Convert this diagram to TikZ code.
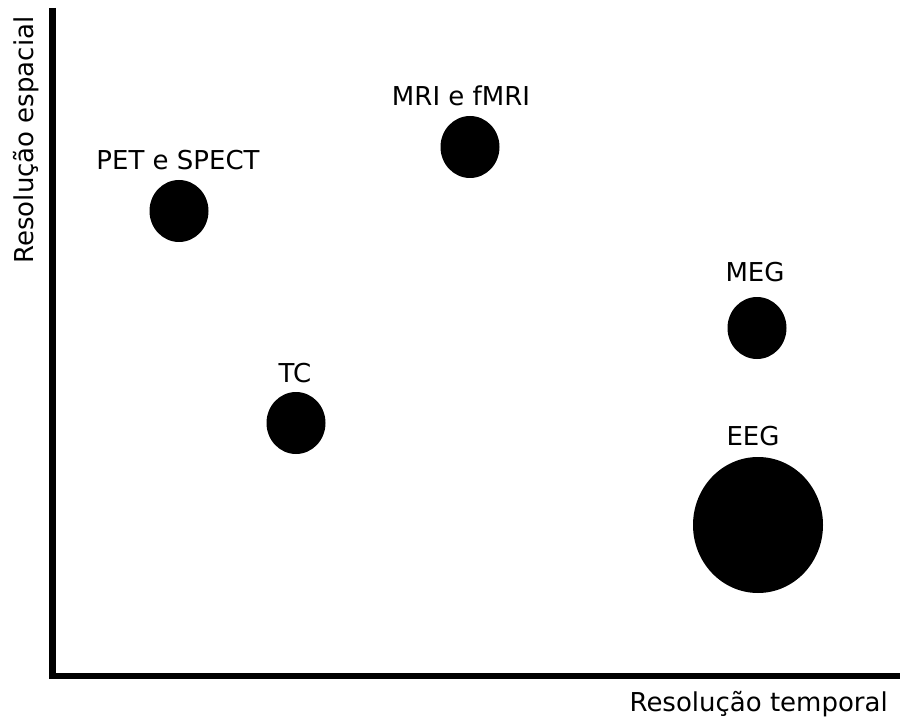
\documentclass[tikz,border=0pt]{standalone}
\usepackage{fontspec}
\setmainfont{DejaVu Sans}
\usetikzlibrary{shapes.geometric}
\tikzset{
  blob/.style={ellipse, fill=black, draw=none, inner sep=0pt, minimum width=59pt, minimum height=62pt},
  bigblob/.style={blob, minimum width=130pt, minimum height=136pt},
  lbl/.style={anchor=base, inner sep=0pt, font=\fontsize{26pt}{30pt}\selectfont},
  axis/.style={line width=6.5pt, line join=miter, line cap=butt}
}
\begin{document}
\begin{tikzpicture}[x=1pt, y=-1pt]
\useasboundingbox (0,0) rectangle (900,722);
% axes
\coordinate (ytop) at (52.5,8);
\coordinate (orig) at (52.5,676);
\coordinate (xend) at (900,676);
\draw[axis] (ytop) -- (orig) -- (xend);
% axis titles
\node[lbl, anchor=base east] (xlab) at (888,711) {Resolução temporal};
\node[lbl, rotate=90, anchor=base] (ylab) at (33,140) {Resolução espacial};
% circles
\node[blob] (pet) at (179,211) {};
\node[blob] (mri) at (470,147) {};
\node[blob] (tc) at (296,423) {};
\node[blob] (meg) at (757,328) {};
\node[bigblob] (eeg) at (758,525) {};
% labels
\node[lbl] (petl) at (178,170) {PET e SPECT};
\node[lbl] (mril) at (461,106) {MRI e fMRI};
\node[lbl] (tcl) at (295,382) {TC};
\node[lbl] (megl) at (755,281) {MEG};
\node[lbl] (eegl) at (753,445) {EEG};
\end{tikzpicture}
\end{document}
